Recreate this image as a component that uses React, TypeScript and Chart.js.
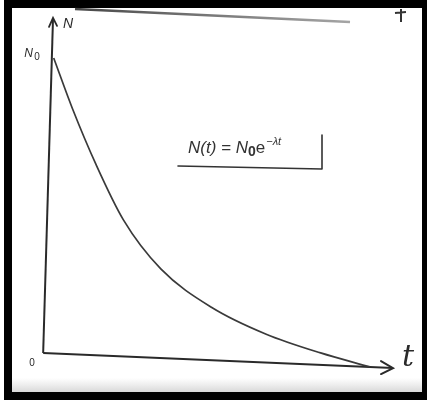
import { useEffect, useRef } from "react";
import { Chart, registerables } from "chart.js";

Chart.register(...registerables);

// Decay curve (t in arbitrary units, N in units of N0)
const timeValues = [0.05, 0.6, 1.3, 2.1, 3.2, 4.7, 6.3, 7.9, 9.35];
const nValues = [1.0, 0.83, 0.64, 0.455, 0.29, 0.16, 0.07, 0.007, -0.04];

// Hand-drawn axes (slightly slanted in the scan)
const yAxisT = [-0.26, 0.03];
const yAxisN = [0.007, 1.135];
const xAxisT = [-0.26, 10.03];
const xAxisN = [0.007, -0.044];

const axisLabelY = "N";
const axisLabelX = "t";
const initialLabel = "N";
const initialSub = "0";
const originLabel = "0";
const formulaParts = ["N(t) = N", "0", "e", "\u2212\u03bbt"];

const X_MIN = -52 / 34;
const X_MAX = 376 / 34;
const Y_MAX = 355 / 297;
const Y_MIN = -46 / 297;

const framePlugin = {
  id: "frame",
  beforeDraw(chart: any) {
    const ctx = chart.ctx;
    const W = chart.width;
    const H = chart.height;
    ctx.save();
    ctx.fillStyle = "#ffffff";
    ctx.fillRect(0, 0, W, H);
    ctx.fillStyle = "#000000";
    ctx.fillRect(4, 0, 423, 400);
    ctx.fillStyle = "#ffffff";
    ctx.fillRect(12, 8, 410, 384);
    // faint scan shading near bottom
    const g = ctx.createLinearGradient(0, 378, 0, 392);
    g.addColorStop(0, "rgba(200,200,200,0)");
    g.addColorStop(1, "rgba(190,190,190,0.6)");
    ctx.fillStyle = g;
    ctx.fillRect(12, 378, 410, 14);
    // stray top stroke from the scan
    const lg = ctx.createLinearGradient(75, 0, 350, 0);
    lg.addColorStop(0, "rgba(50,50,50,0.9)");
    lg.addColorStop(1, "rgba(90,90,90,0.55)");
    ctx.strokeStyle = lg;
    ctx.lineWidth = 2.5;
    ctx.beginPath();
    ctx.moveTo(75, 9);
    ctx.lineTo(350, 22);
    ctx.stroke();
    // small cross mark top right
    ctx.strokeStyle = "#333";
    ctx.lineWidth = 2;
    ctx.beginPath();
    ctx.moveTo(395, 13);
    ctx.lineTo(406, 12);
    ctx.moveTo(401, 9);
    ctx.lineTo(401, 22);
    ctx.stroke();
    ctx.restore();
  },
  afterDraw(chart: any) {
    const ctx = chart.ctx;
    const xs = chart.scales.x;
    const ys = chart.scales.y;
    ctx.save();
    ctx.fillStyle = "#2a2a2a";
    ctx.strokeStyle = "#2a2a2a";
    ctx.lineCap = "round";

    // y axis arrow head
    const yTipX = xs.getPixelForValue(yAxisT[1]);
    const yTipY = ys.getPixelForValue(yAxisN[1]);
    ctx.lineWidth = 1.8;
    ctx.beginPath();
    ctx.moveTo(yTipX - 4, yTipY + 9);
    ctx.lineTo(yTipX, yTipY);
    ctx.lineTo(yTipX + 4, yTipY + 8);
    ctx.stroke();

    // x axis arrow head
    const xTipX = xs.getPixelForValue(xAxisT[1]);
    const xTipY = ys.getPixelForValue(xAxisN[1]);
    ctx.lineWidth = 2;
    ctx.beginPath();
    ctx.moveTo(xTipX - 12, xTipY - 7);
    ctx.lineTo(xTipX, xTipY);
    ctx.lineTo(xTipX - 12, xTipY + 6);
    ctx.stroke();

    // axis labels
    ctx.textBaseline = "alphabetic";
    ctx.textAlign = "left";
    ctx.font = "italic 14px 'Liberation Sans'";
    ctx.fillText(axisLabelY, yTipX + 10, yTipY + 10);

    const n0y = ys.getPixelForValue(nValues[0]);
    const ax0 = xs.getPixelForValue(yAxisT[0]);
    ctx.font = "italic 12px 'Liberation Sans'";
    ctx.fillText(initialLabel, ax0 - 19, n0y - 1);
    ctx.font = "10px 'Liberation Sans'";
    ctx.fillText(initialSub, ax0 - 9, n0y + 2);

    const oy = ys.getPixelForValue(xAxisN[0]);
    ctx.font = "10px 'Liberation Sans'";
    ctx.fillText(originLabel, ax0 - 14, oy + 13);

    ctx.font = "italic 30px 'DejaVu Serif'";
    ctx.fillText(axisLabelX, xTipX + 9, xTipY - 2);

    // formula box
    let fx = 188;
    const fy = 153;
    ctx.fillStyle = "#333";
    ctx.font = "italic 17px 'Liberation Sans'";
    ctx.fillText(formulaParts[0], fx, fy);
    fx += ctx.measureText(formulaParts[0]).width;
    ctx.font = "bold 14px 'Liberation Sans'";
    ctx.fillText(formulaParts[1], fx, fy + 3);
    fx += ctx.measureText(formulaParts[1]).width;
    ctx.font = "17px 'Liberation Sans'";
    ctx.fillText(formulaParts[2], fx, fy);
    fx += ctx.measureText(formulaParts[2]).width + 1;
    ctx.font = "italic 11px 'Liberation Sans'";
    ctx.fillText(formulaParts[3], fx, fy - 8);

    ctx.strokeStyle = "#333";
    ctx.lineWidth = 1.6;
    ctx.beginPath();
    ctx.moveTo(178, 166);
    ctx.lineTo(322, 169);
    ctx.moveTo(322, 169);
    ctx.lineTo(322, 135);
    ctx.stroke();
    ctx.restore();
  },
};

export default function App() {
  const ref = useRef<HTMLCanvasElement | null>(null);
  useEffect(() => {
    if (!ref.current) return;
    const chart = new Chart(ref.current, {
      type: "scatter",
      data: {
        datasets: [
          {
            label: "N(t)",
            data: timeValues.map((t, i) => ({ x: t, y: nValues[i] })),
            showLine: true,
            borderColor: "#3a3a3a",
            borderWidth: 1.7,
            pointRadius: 0,
            cubicInterpolationMode: "monotone",
          },
          {
            label: "yaxis",
            data: yAxisT.map((t, i) => ({ x: t, y: yAxisN[i] })),
            showLine: true,
            borderColor: "#2a2a2a",
            borderWidth: 2,
            pointRadius: 0,
          },
          {
            label: "xaxis",
            data: xAxisT.map((t, i) => ({ x: t, y: xAxisN[i] })),
            showLine: true,
            borderColor: "#2a2a2a",
            borderWidth: 2,
            pointRadius: 0,
          },
        ],
      },
      options: {
        responsive: false,
        animation: false,
        devicePixelRatio: 1,
        layout: { padding: 0 },
        plugins: { legend: { display: false }, tooltip: { enabled: false } },
        scales: {
          x: { type: "linear", display: false, min: X_MIN, max: X_MAX },
          y: { type: "linear", display: false, min: Y_MIN, max: Y_MAX },
        },
      },
      plugins: [framePlugin],
    } as any);
    return () => chart.destroy();
  }, []);
  return (
    <div style={{ position: "fixed", left: 0, top: 0, width: 428, height: 401 }}>
      <canvas ref={ref} width={428} height={401} style={{ display: "block" }} />
    </div>
  );
}
